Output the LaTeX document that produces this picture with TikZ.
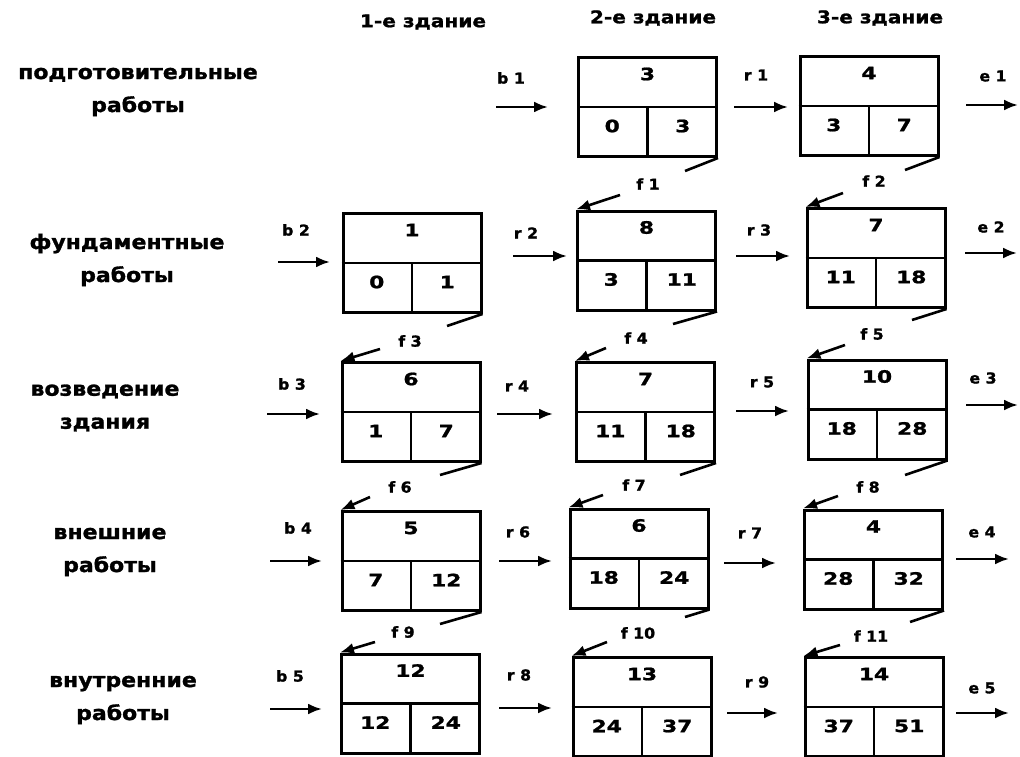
\documentclass[tikz,border=0pt]{standalone}
\usepackage{fontspec}
\usetikzlibrary{arrows.meta,calc}
\newfontfamily\numfont[FakeStretch=1.28,FakeBold=1.2]{DejaVu Sans Bold}
\newfontfamily\headfont[FakeStretch=1.15,FakeBold=1.2]{DejaVu Sans Bold}
\newfontfamily\labfont[FakeStretch=1.05,FakeBold=1.4]{DejaVu Sans Bold}
\newfontfamily\rowfont[FakeStretch=1.1,FakeBold=1.4]{DejaVu Sans Bold}
\tikzset{
  boxst/.style={draw, line width=3pt, minimum width=138pt, minimum height=99pt, inner sep=0pt},
  inner/.style={line width=2.8pt},
  num/.style={font=\numfont\fontsize{17}{19}\selectfont, inner sep=0pt},
  lab/.style={font=\labfont\fontsize{15}{17}\selectfont, inner sep=0pt},
  head/.style={font=\headfont\fontsize{17.5}{19}\selectfont, inner sep=0pt},
  rowl/.style={font=\rowfont\fontsize{20}{33}\selectfont, align=center, inner sep=0pt},
  arr/.style={line width=2.6pt, -{Latex[length=14pt,width=11pt]}},
  fl/.style={line width=2.6pt},
}
\newcommand\abox[7]{%
  \node[boxst] (#1) at (#2,#3) {};
  \draw[inner] (#1.west) -- (#1.east);
  \draw[inner] (#1.center) -- (#1.south);
  \node[num] (#1t) at ($(#1.north)+(0,18)$) {#5};
  \node[num] (#1l) at ($(#1.west)!0.5!(#1.center)+(0,19)$) {#6};
  \node[num] (#1r) at ($(#1.center)!0.5!(#1.east)+(0,19)$) {#7};
}
\newcommand\harr[4]{% name, x1, x2, y
  \coordinate (#1s) at (#2,#4);
  \coordinate (#1e) at (#3,#4);
  \draw[arr] (#1s) -- (#1e);
}
\newcommand\flink[7]{% name, from box, line end x, y, label x, y, text
  \coordinate (#1a) at (#3,#4);
  \draw[fl] (#2.south east) -- (#1a);
  \node[lab] (#1l) at (#5,#6) {#7};
}
\begin{document}
\begin{tikzpicture}[x=1pt,y=-1pt]
\useasboundingbox (0,0) rectangle (1020,757);
% headers
\node[head] (h1) at (423,22) {1-е здание};
\node[head] (h2) at (653,18) {2-е здание};
\node[head] (h3) at (880,18) {3-е здание};
% row labels
\node[rowl] (l1) at (138,92) {подготовительные\\работы};
\node[rowl] (l2) at (127,260) {фундаментные\\работы};
\node[rowl] (l3) at (105,408) {возведение\\здания};
\node[rowl] (l4) at (110,552) {внешние\\работы};
\node[rowl] (l5) at (123,700) {внутренние\\работы};
% boxes
\abox{B12}{647.5}{107}{}{3}{0}{3}
\abox{B13}{869}{106}{}{4}{3}{7}
\abox{B21}{412}{263}{}{1}{0}{1}
\abox{B22}{646.5}{260.5}{}{8}{3}{11}
\abox{B23}{876}{258}{}{7}{11}{18}
\abox{B31}{411}{412}{}{6}{1}{7}
\abox{B32}{645.5}{412}{}{7}{11}{18}
\abox{B33}{877}{409.5}{}{10}{18}{28}
\abox{B41}{411}{561}{}{5}{7}{12}
\abox{B42}{639}{558.5}{}{6}{18}{24}
\abox{B43}{873.5}{559.5}{}{4}{28}{32}
\abox{B51}{410.5}{703.5}{}{12}{12}{24}
\abox{B52}{642}{707}{}{13}{24}{37}
\abox{B53}{874}{707}{}{14}{37}{51}
% horizontal arrows
\harr{b1}{496}{548}{107}\node[lab] (b1l) at (511,78) {b 1};
\harr{r1}{734}{788}{107}\node[lab] (r1l) at (756,75) {r 1};
\harr{e1}{966}{1018}{105}\node[lab] (e1l) at (993,76) {e 1};
\harr{b2}{278}{330}{262}\node[lab] (b2l) at (296,230) {b 2};
\harr{r2}{513}{567}{256}\node[lab] (r2l) at (526,233) {r 2};
\harr{r3}{736}{790}{256}\node[lab] (r3l) at (759,230) {r 3};
\harr{e2}{965}{1017}{253}\node[lab] (e2l) at (991,227) {e 2};
\harr{b3}{267}{320}{414}\node[lab] (b3l) at (292,384) {b 3};
\harr{r4}{497}{553}{414}\node[lab] (r4l) at (517,386) {r 4};
\harr{r5}{736}{789}{411}\node[lab] (r5l) at (762,382) {r 5};
\harr{e3}{966}{1018}{405}\node[lab] (e3l) at (983,378) {e 3};
\harr{b4}{270}{322}{561}\node[lab] (b4l) at (298,528) {b 4};
\harr{r6}{499}{552}{561}\node[lab] (r6l) at (518,532) {r 6};
\harr{r7}{724}{776}{563}\node[lab] (r7l) at (750,533) {r 7};
\harr{e4}{956}{1009}{559}\node[lab] (e4l) at (982,532) {e 4};
\harr{b5}{270}{322}{709}\node[lab] (b5l) at (290,676) {b 5};
\harr{r8}{499}{552}{708}\node[lab] (r8l) at (519,675) {r 8};
\harr{r9}{727}{778}{713}\node[lab] (r9l) at (757,682) {r 9};
\harr{e5}{956}{1009}{713}\node[lab] (e5l) at (982,688) {e 5};
% f links
\flink{f1}{B12}{685}{171}{648}{184}{f 1}\coordinate (f1s) at (620,195);\draw[arr] (f1s) -- (B22.north west);
\flink{f2}{B13}{905}{170}{874}{181}{f 2}\coordinate (f2s) at (843,193);\draw[arr] (f2s) -- (B23.north west);
\flink{f3}{B21}{447}{326}{410}{341}{f 3}\coordinate (f3s) at (380,349);\draw[arr] (f3s) -- (B31.north west);
\flink{f4}{B22}{673}{324}{636}{338}{f 4}\coordinate (f4s) at (606,348);\draw[arr] (f4s) -- (B32.north west);
\flink{f5}{B23}{912}{320}{872}{334}{f 5}\coordinate (f5s) at (845,345);\draw[arr] (f5s) -- (B33.north west);
\flink{f6}{B31}{440}{475}{400}{487}{f 6}\coordinate (f6s) at (370,497);\draw[arr] (f6s) -- (B41.north west);
\flink{f7}{B32}{680}{475}{634}{485}{f 7}\coordinate (f7s) at (603,495);\draw[arr] (f7s) -- (B42.north west);
\flink{f8}{B33}{905}{475}{868}{487}{f 8}\coordinate (f8s) at (838,496);\draw[arr] (f8s) -- (B43.north west);
\flink{f9}{B41}{440}{624}{403}{632}{f 9}\coordinate (f9s) at (375,642);\draw[arr] (f9s) -- (B51.north west);
\flink{f10}{B42}{685}{617}{638}{633}{f 10}\coordinate (f10s) at (607,642);\draw[arr] (f10s) -- (B52.north west);
\flink{f11}{B43}{910}{622}{871}{636}{f 11}\coordinate (f11s) at (840,645);\draw[arr] (f11s) -- (B53.north west);
\end{tikzpicture}
\end{document}
